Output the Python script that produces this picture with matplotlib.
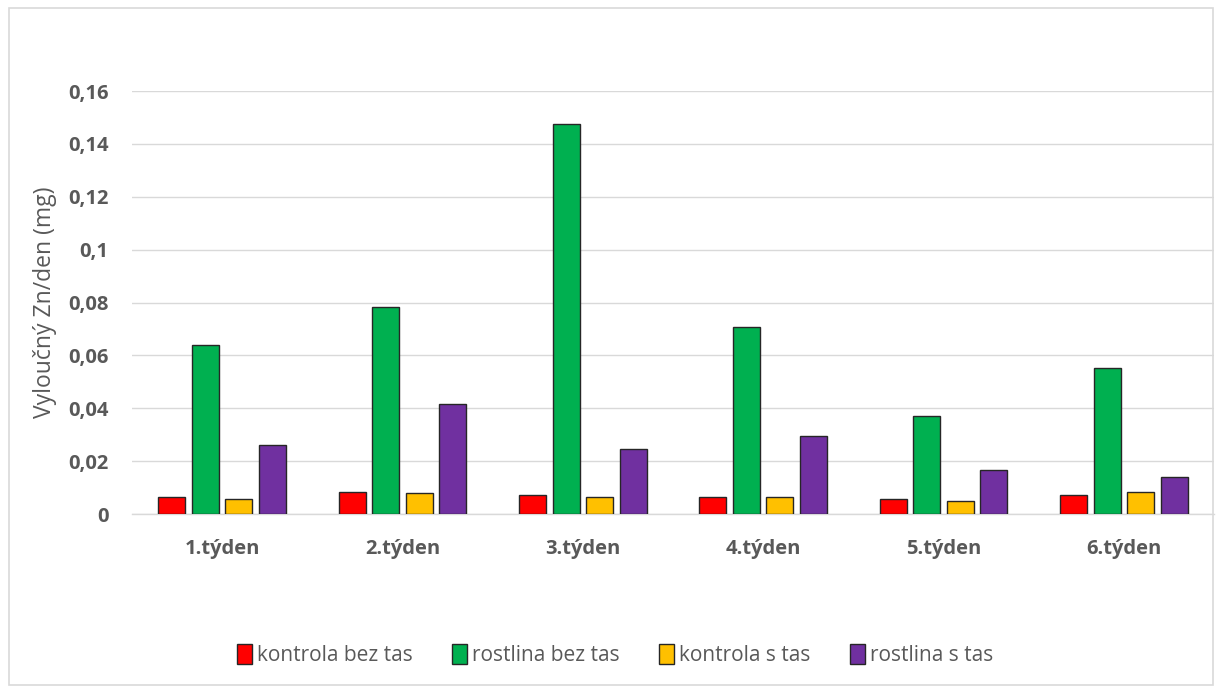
import matplotlib.pyplot as plt
import numpy as np
from matplotlib.patches import Rectangle
from matplotlib.ticker import FuncFormatter

weeks = ['1.týden', '2.týden', '3.týden', '4.týden', '5.týden', '6.týden']
series = ['kontrola bez tas', 'rostlina bez tas', 'kontrola s tas', 'rostlina s tas']

kontrola_bez = [0.0064, 0.0083, 0.0072, 0.0064, 0.0057, 0.0072]
rostlina_bez = [0.0639, 0.0783, 0.1475, 0.0707, 0.0371, 0.0552]
kontrola_s = [0.0057, 0.0079, 0.0064, 0.0064, 0.0049, 0.0083]
rostlina_s = [0.0261, 0.0416, 0.0246, 0.0295, 0.0168, 0.0140]

colors = ['#FF0000', '#00B050', '#FFC000', '#7030A0']
text_color = '#595959'

plt.rcParams['font.family'] = ['Open Sans', 'DejaVu Sans']

fig = plt.figure(figsize=(12.22, 6.89), dpi=100)
fig.patches.append(Rectangle((0.007, 0.006), 0.986, 0.983, transform=fig.transFigure,
                             fill=False, edgecolor='#D9D9D9', linewidth=1.2))
ax = fig.add_axes([132 / 1222, 1 - 514 / 689, (1214 - 132) / 1222, (514 - 91) / 689])

x = np.arange(len(weeks))
width = 0.15
step = 0.186
all_values = [kontrola_bez, rostlina_bez, kontrola_s, rostlina_s]
for i, (name, vals) in enumerate(zip(series, all_values)):
    offset = (i - 1.5) * step
    ax.bar(x + offset, vals, width, color=colors[i], edgecolor='#262626',
           linewidth=1.0, label=name, zorder=3)

ax.set_xlim(-0.5, 5.5)
ax.set_ylim(0, 0.16)
ax.set_yticks(np.arange(0, 0.161, 0.02))
ax.yaxis.set_major_formatter(FuncFormatter(
    lambda v, p: '0' if v == 0 else ('%.2f' % v).rstrip('0').replace('.', ',')))
ax.set_xticks(x)
ax.set_xticklabels(weeks)
ax.grid(axis='y', color='#D9D9D9', linewidth=1.0, zorder=0)
for s in ['top', 'right', 'left']:
    ax.spines[s].set_visible(False)
ax.spines['bottom'].set_color('#D9D9D9')
ax.spines['bottom'].set_linewidth(1.0)
ax.tick_params(axis='both', length=0, colors=text_color, labelsize=14.5)
ax.tick_params(axis='y', pad=17)
ax.tick_params(axis='x', pad=18)
for lbl in ax.get_xticklabels() + ax.get_yticklabels():
    lbl.set_fontweight('bold')

ax.set_ylabel('Vyloučný Zn/den (mg)', fontsize=16.5, color=text_color)
ax.yaxis.set_label_coords(-0.069, 0.5)

fig.legend(loc='center', bbox_to_anchor=(615 / 1222, 1 - 655 / 689), ncol=4,
           frameon=False, fontsize=15, handlelength=0.7, handleheight=1.1,
           handletextpad=0.25, columnspacing=1.9, labelcolor=text_color)

plt.savefig('out.png', dpi=100)
